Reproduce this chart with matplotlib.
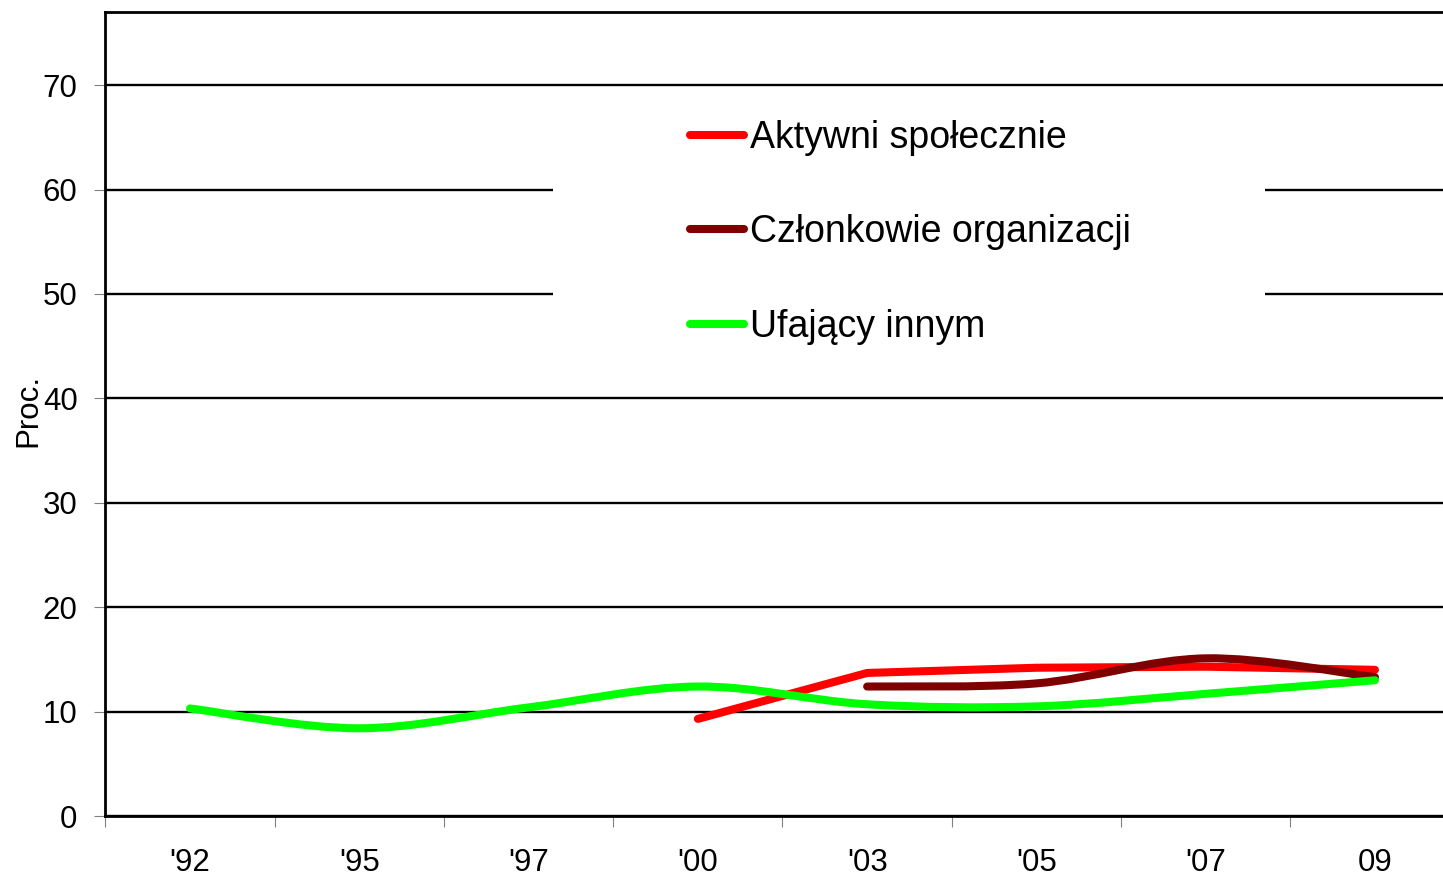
import matplotlib
matplotlib.use("Agg")
import matplotlib.pyplot as plt
from matplotlib.path import Path
from matplotlib.patches import PathPatch, Rectangle
from matplotlib.lines import Line2D
import numpy as np

plt.rcParams['font.family'] = ['Liberation Sans', 'DejaVu Sans']

categories = ["'92", "'95", "'97", "'00", "'03", "'05", "'07", "09"]
aktywni = [None, None, None, 9.3, 13.7, 14.2, 14.3, 14.0]
czlonkowie = [None, None, None, None, 12.4, 12.7, 15.1, 13.3]
ufajacy = [10.3, 8.4, 10.4, 12.4, 10.7, 10.5, 11.7, 13.0]

series_names = ["Aktywni społecznie", "Członkowie organizacji", "Ufający innym"]
series_colors = ["#FF0000", "#7F0000", "#00FF00"]
series_smooth = [False, True, True]
yticks = [0, 10, 20, 30, 40, 50, 60, 70]


def valid_points(vals):
    xs = [i for i, v in enumerate(vals) if v is not None]
    ys = [v for v in vals if v is not None]
    return np.array(xs, float), np.array(ys, float)


def smooth_path(xs, ys):
    pts = np.column_stack([xs, ys])
    n = len(pts)
    verts = [pts[0]]
    codes = [Path.MOVETO]
    for i in range(n - 1):
        p0 = pts[i - 1] if i > 0 else pts[i]
        p1 = pts[i]
        p2 = pts[i + 1]
        p3 = pts[i + 2] if i + 2 < n else pts[i + 1]
        c1 = p1 + (p2 - p0) / 6.0
        c2 = p2 - (p3 - p1) / 6.0
        verts += [c1, c2, p2]
        codes += [Path.CURVE4] * 3
    return Path(verts, codes)


fig = plt.figure(figsize=(14.43, 8.77), dpi=100)
W, H = 1443.0, 877.0
left, right, top, bottom = 105.4, 1459.6, 12.0, 816.0
ax = fig.add_axes([left / W, 1 - bottom / H, (right - left) / W, (bottom - top) / H])

ax.set_xlim(-0.5, len(categories) - 0.5)
ax.set_ylim(0, 77)

# background box of the legend
ax.add_patch(Rectangle((0.3304, 0.55), 0.5256, 0.345, transform=ax.transAxes,
                       facecolor='white', edgecolor='none', zorder=1))

LW = 5.8
handles = []
for k, (vals, name, col, sm) in enumerate(zip([aktywni, czlonkowie, ufajacy],
                                              series_names, series_colors, series_smooth)):
    xs, ys = valid_points(vals)
    if sm:
        patch = PathPatch(smooth_path(xs, ys), facecolor='none', edgecolor=col,
                          linewidth=LW, capstyle='round', joinstyle='round', zorder=3 + k)
        ax.add_patch(patch)
    else:
        ax.plot(xs, ys, color=col, linewidth=LW, solid_capstyle='round',
                solid_joinstyle='round', zorder=3 + k)
    handles.append(Line2D([0], [0], color=col, linewidth=LW, solid_capstyle='round'))

# grid
ax.set_yticks(yticks)
ax.yaxis.grid(True, color='black', linewidth=1.7)
ax.set_axisbelow(True)

# x ticks: marks at boundaries, labels at centres
ax.set_xticks(np.arange(-0.5, len(categories), 1.0))
ax.set_xticklabels([])
ax.set_xticks(np.arange(len(categories)), minor=True)
ax.set_xticklabels(categories, minor=True)
ax.tick_params(axis='x', which='major', length=8, width=0.8, color='#808080', direction='out')
ax.tick_params(axis='x', which='minor', length=0, pad=23, labelsize=22.5)
ax.tick_params(axis='y', length=8, width=0.8, color='#808080', direction='out', pad=12,
               labelsize=22.5)

for s in ['left', 'bottom', 'top']:
    ax.spines[s].set_linewidth(2.0)
    ax.spines[s].set_color('black')
ax.spines['right'].set_visible(False)

ax.set_ylabel('Proc.', fontsize=22.5)
ax.yaxis.set_label_coords(-0.0455, 0.505)

leg = ax.legend(handles, series_names, loc='upper left', bbox_to_anchor=(0.4316, 0.866),
                frameon=False, fontsize=27, handlelength=1.45, handletextpad=0.15,
                labelspacing=1.56, borderpad=0, borderaxespad=0)
leg.set_zorder(10)

fig.savefig('out.png', dpi=100)
